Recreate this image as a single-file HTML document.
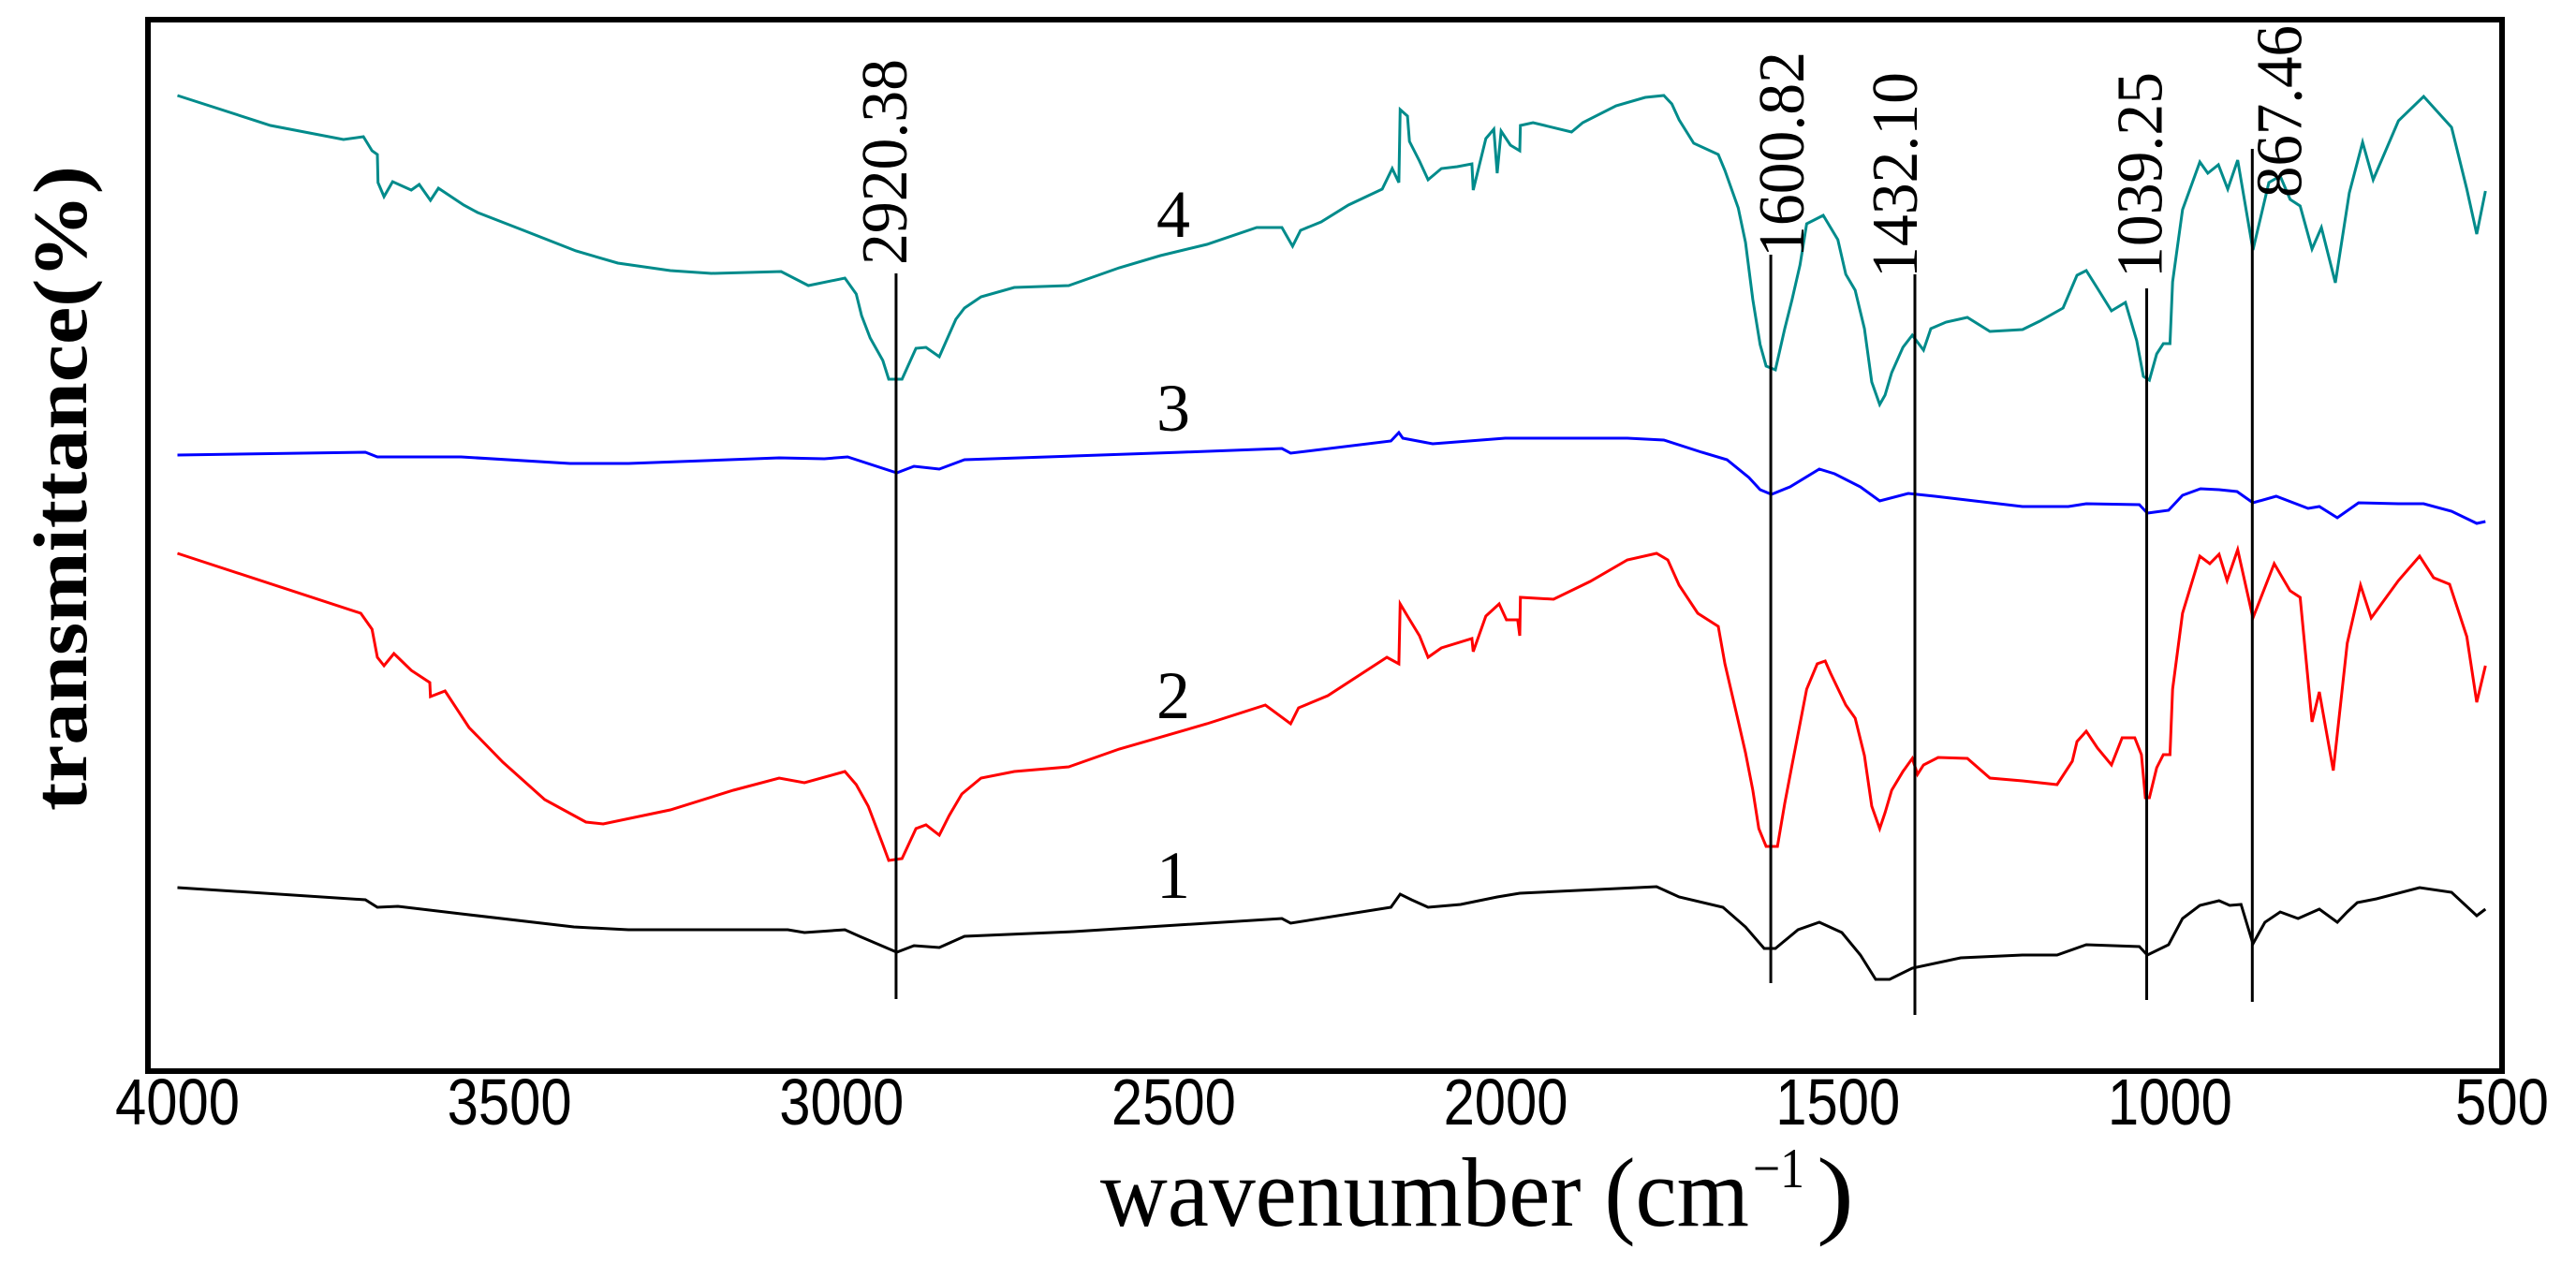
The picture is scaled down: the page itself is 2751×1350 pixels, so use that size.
<!DOCTYPE html>
<html><head><meta charset="utf-8"><title>FTIR spectra</title>
<style>html,body{margin:0;padding:0;background:#fff;}svg{display:block;}</style></head>
<body>
<svg id="chart" xmlns="http://www.w3.org/2000/svg" width="2751" height="1350" viewBox="0 0 2751 1350">
<rect x="0" y="0" width="2751" height="1350" fill="#fff"/>
<g id="series"></g>
<g id="markers"></g>
<g id="xticks"></g>
<rect x="158" y="21" width="2514" height="1123" fill="none" stroke="#000" stroke-width="6"/>
<text transform="translate(92,866) rotate(-90)" font-family="Liberation Serif, serif" font-weight="bold" font-size="82" textLength="689" lengthAdjust="spacingAndGlyphs">transmittance(%)</text>
<text x="1175" y="1309" font-family="Liberation Serif, serif" font-size="105" textLength="693" lengthAdjust="spacingAndGlyphs">wavenumber (cm</text>
<text x="1872" y="1268" font-family="Liberation Serif, serif" font-size="60" textLength="55" lengthAdjust="spacingAndGlyphs">−1</text>
<text x="1940" y="1309" font-family="Liberation Serif, serif" font-size="105" textLength="40" lengthAdjust="spacingAndGlyphs">)</text>
</svg>
<script>
const xTicks = [4000, 3500, 3000, 2500, 2000, 1500, 1000, 500];
const wn4 = [4000,3860,3750,3720,3707,3699,3698,3689,3676,3648,3636,3619,3607,3569,3548,3479,3400,3337,3258,3196,3091,3050,2995,2978,2970,2957,2938,2929,2909,2888,2873,2853,2838,2828,2815,2790,2740,2658,2582,2520,2450,2375,2337,2321,2309,2278,2237,2186,2171,2161,2159,2148,2145,2130,2117,2097,2073,2051,2049,2030,2018,2013,2007,1993,1979,1978,1959,1901,1884,1834,1790,1762,1750,1739,1717,1680,1670,1650,1639,1628,1617,1608,1594,1580,1569,1557,1547,1533,1522,1511,1500,1488,1474,1460,1449,1437,1429,1419,1402,1388,1371,1360,1337,1305,1271,1222,1196,1161,1140,1126,1109,1088,1067,1050,1040,1031,1020,1010,1000,996,981,955,943,927,913,898,875,851,834,819,804,786,772,751,730,710,694,656,618,576,553,538,525];
const t4 = [104.2,101.0,99.5,99.8,98.3,97.9,94.9,93.4,95.0,94.1,94.7,93.0,94.3,92.5,91.7,89.8,87.6,86.3,85.5,85.2,85.4,83.9,84.7,83.0,80.7,78.3,75.9,73.9,73.9,77.2,77.3,76.3,78.7,80.3,81.5,82.7,83.7,83.9,85.8,87.1,88.3,90.1,90.1,88.1,89.8,90.7,92.5,94.2,96.4,94.9,102.7,102.0,99.3,97.2,95.2,96.4,96.6,96.9,94.1,99.6,100.6,95.9,100.4,98.9,98.3,101.0,101.3,100.3,101.3,103.1,104.0,104.2,103.3,101.6,99.1,97.9,96.2,92.2,88.5,82.4,77.6,75.3,74.9,79.3,82.4,86.1,90.5,91.0,91.4,90.1,88.8,85.1,83.4,79.3,73.6,71.2,72.2,74.6,77.3,78.6,77.0,79.3,80.0,80.5,79.0,79.2,80.1,81.5,85.0,85.5,83.6,81.2,82.1,78.0,74.2,73.8,76.6,77.7,77.7,84.3,92.0,97.1,95.9,96.8,94.2,97.3,87.7,94.9,95.6,93.1,92.4,87.8,90.1,84.2,93.8,99.2,95.2,101.5,104.1,100.8,94.2,89.4,94.0];
const wn3 = [4000,3717,3699,3573,3409,3321,3094,3026,2991,2917,2891,2853,2815,2651,2488,2337,2324,2173,2161,2155,2110,2001,1817,1762,1705,1667,1634,1617,1600,1572,1528,1505,1466,1437,1394,1354,1222,1153,1126,1046,1034,1002,981,954,926,899,875,840,792,775,748,716,656,618,576,538,525];
const t3 = [65.8,66.1,65.6,65.6,64.9,64.9,65.5,65.4,65.6,63.9,64.6,64.3,65.3,65.7,66.1,66.5,66.0,67.3,68.2,67.6,67.0,67.6,67.6,67.4,66.1,65.3,63.4,62.1,61.6,62.4,64.3,63.8,62.4,60.9,61.7,61.4,60.3,60.3,60.6,60.5,59.6,59.9,61.5,62.2,62.1,61.9,60.7,61.4,60.1,60.3,59.1,60.7,60.6,60.6,59.8,58.5,58.7];
const wn2 = [4000,3724,3707,3699,3689,3674,3648,3620,3619,3597,3561,3510,3447,3385,3359,3258,3163,3094,3056,2995,2978,2960,2938,2929,2909,2888,2873,2853,2838,2819,2790,2740,2658,2582,2450,2362,2324,2312,2268,2179,2161,2159,2148,2130,2117,2097,2051,2049,2030,2010,1999,1982,1979,1978,1928,1873,1817,1773,1756,1739,1711,1680,1670,1650,1639,1628,1619,1608,1591,1580,1569,1557,1547,1531,1519,1511,1488,1474,1460,1449,1437,1429,1419,1402,1388,1380,1371,1349,1305,1271,1222,1170,1147,1140,1126,1109,1088,1072,1053,1043,1037,1031,1020,1010,1000,996,981,955,940,926,914,898,875,843,819,804,786,775,754,733,713,697,656,624,603,579,553,538,525];
const t2 = [55.3,48.9,47.2,44.2,43.3,44.6,42.8,41.5,40.0,40.6,36.7,33.0,29.0,26.6,26.4,27.9,30.0,31.3,30.8,32.0,30.6,28.3,24.2,22.5,22.7,25.9,26.3,25.2,27.3,29.6,31.3,32.0,32.5,34.4,37.1,39.1,37.1,38.8,40.1,44.2,43.5,49.9,48.6,46.5,44.2,45.2,46.2,44.8,48.6,49.9,48.2,48.2,46.5,50.6,50.4,52.3,54.6,55.3,54.6,51.9,48.9,47.5,43.5,37.4,34.0,30.0,25.9,24.0,24.0,28.6,32.7,37.1,40.8,43.5,43.8,42.5,39.1,37.7,33.7,28.3,25.9,27.6,30.0,32.0,33.4,31.7,32.7,33.5,33.4,31.3,31.0,30.6,33.1,35.2,36.3,34.5,32.7,35.6,35.6,33.8,29.2,29.2,32.4,33.8,33.8,40.8,48.9,55.0,54.2,55.2,52.4,55.7,48.4,54.2,51.3,50.6,37.3,40.5,32.1,45.7,51.9,48.4,52.4,55.0,52.7,52.0,46.4,39.4,43.3];
const wn1 = [4000,3717,3699,3668,3573,3403,3321,3081,3056,2995,2973,2917,2891,2853,2815,2651,2337,2324,2173,2159,2142,2117,2068,2013,1979,1773,1739,1673,1639,1611,1594,1560,1528,1494,1466,1443,1422,1388,1315,1222,1170,1126,1046,1034,1002,981,955,926,910,893,875,857,834,807,775,748,733,718,689,624,576,538,525];
const t1 = [19.6,18.3,17.5,17.6,16.8,15.4,15.1,15.1,14.8,15.1,14.4,12.7,13.4,13.2,14.4,14.9,16.3,15.8,17.5,18.9,18.3,17.5,17.8,18.6,19.0,19.7,18.6,17.5,15.4,13.1,13.1,15.1,15.9,14.8,12.4,9.8,9.8,11.0,12.1,12.4,12.4,13.5,13.3,12.4,13.5,16.3,17.7,18.2,17.7,17.8,13.6,15.9,17.0,16.3,17.3,15.9,17.0,18.0,18.4,19.6,19.1,16.6,17.3];
const seriesNames = ["1", "2", "3", "4"];
const markerLabels = ["2920.38", "1600.82", "1432.10", "1039.25", "867.46"];
const markerWn = [2918, 1601, 1384, 1035, 876];
const markerTop = [85.2, 87.2, 85.1, 83.6, 98.5];
const markerBottom = [7.7, 9.4, 6.0, 7.6, 7.4];

const NS = "http://www.w3.org/2000/svg";
const X0 = 189.5, XPER = 2482.5 / 3500;
function xScale(w) { return X0 + (4000 - w) * XPER; }
function yScale(v) { return 1144 - v * 10; }

const seriesG = document.getElementById("series");
const allSeries = [
  { wn: wn1, t: t1, color: "#000000", name: "series-1-line", lx: 1253, lv: 18.5 },
  { wn: wn2, t: t2, color: "#ff0000", name: "series-2-line", lx: 1253, lv: 37.7 },
  { wn: wn3, t: t3, color: "#0000ff", name: "series-3-line", lx: 1253, lv: 68.4 },
  { wn: wn4, t: t4, color: "#008b8b", name: "series-4-line", lx: 1253, lv: 89.1 }
];
allSeries.forEach(function (s, i) {
  const pts = s.wn.map(function (w, j) { return xScale(w).toFixed(1) + "," + yScale(s.t[j]).toFixed(1); }).join(" ");
  const pl = document.createElementNS(NS, "polyline");
  pl.setAttribute("points", pts);
  pl.setAttribute("fill", "none");
  pl.setAttribute("stroke", s.color);
  pl.setAttribute("stroke-width", "3");
  
  
  seriesG.appendChild(pl);
  const lb = document.createElementNS(NS, "text");
  lb.setAttribute("x", s.lx);
  lb.setAttribute("y", yScale(s.lv));
  lb.setAttribute("text-anchor", "middle");
  lb.setAttribute("font-family", "Liberation Serif, serif");
  lb.setAttribute("font-size", "72");
  lb.textContent = seriesNames[i];
  
  
  seriesG.appendChild(lb);
});

const mG = document.getElementById("markers");
const labelDx = [11, 35, 2, 16, 52];
const labelStartY = [283, 275, 297, 297, 211];
markerWn.forEach(function (w, i) {
  const x = xScale(w);
  const ln = document.createElementNS(NS, "line");
  ln.setAttribute("x1", x); ln.setAttribute("x2", x);
  ln.setAttribute("y1", yScale(markerTop[i])); ln.setAttribute("y2", yScale(markerBottom[i]));
  ln.setAttribute("stroke", "#000"); ln.setAttribute("stroke-width", "3");
  
  
  mG.appendChild(ln);
  const tx = document.createElementNS(NS, "text");
  tx.setAttribute("transform", "translate(" + (x + labelDx[i]) + "," + labelStartY[i] + ") rotate(-90)");
  tx.setAttribute("font-family", "Liberation Serif, serif");
  tx.setAttribute("font-size", "70");
  tx.setAttribute("textLength", markerLabels[i].length === 6 ? "184" : "220");
  tx.setAttribute("lengthAdjust", "spacingAndGlyphs");
  tx.textContent = markerLabels[i];
  
  
  mG.appendChild(tx);
});

const xg = document.getElementById("xticks");
xTicks.forEach(function (t) {
  const tx = document.createElementNS(NS, "text");
  tx.setAttribute("x", xScale(t));
  tx.setAttribute("y", 1201);
  tx.setAttribute("text-anchor", "middle");
  tx.setAttribute("font-family", "Liberation Sans, sans-serif");
  tx.setAttribute("font-size", "70");
  tx.setAttribute("textLength", String(t).length === 4 ? "133" : "100");
  tx.setAttribute("lengthAdjust", "spacingAndGlyphs");
  tx.textContent = String(t);
  
  
  xg.appendChild(tx);
});
</script>
</body></html>
